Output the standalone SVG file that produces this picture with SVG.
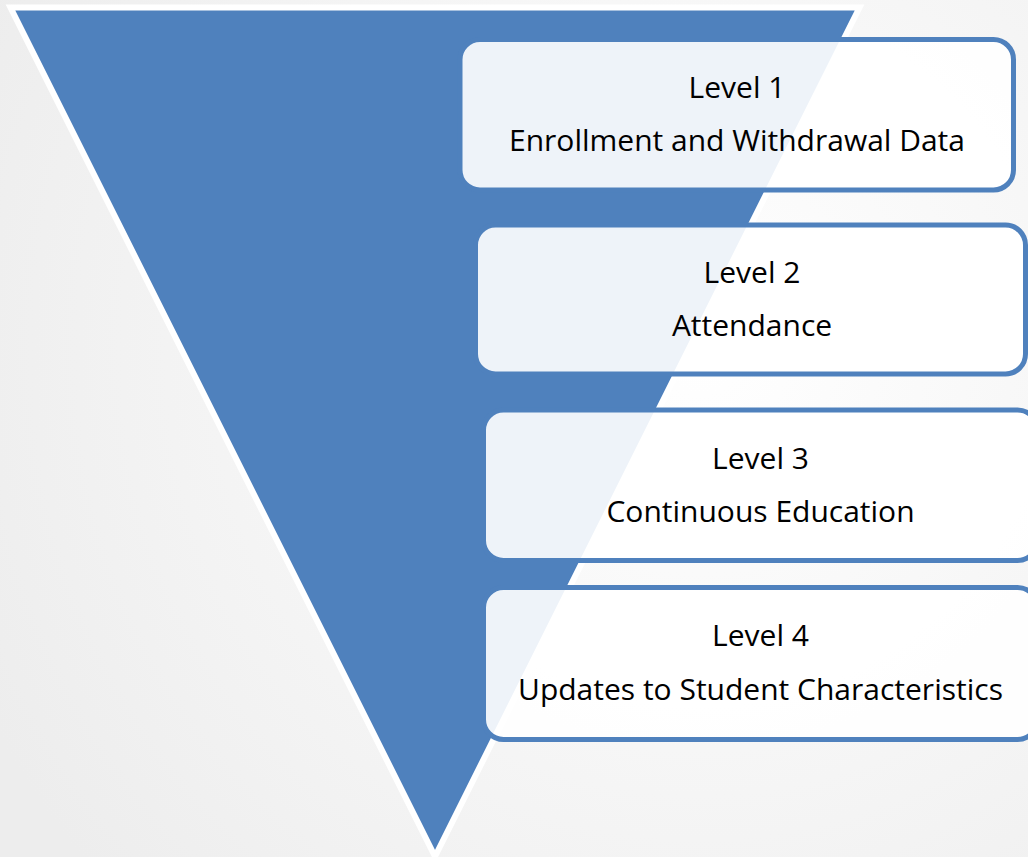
<svg xmlns="http://www.w3.org/2000/svg" width="1028" height="857" viewBox="0 0 1028 857">
<defs>
<radialGradient id="bg" cx="700" cy="350" r="800" gradientUnits="userSpaceOnUse">
<stop offset="0" stop-color="#FFFFFF"/>
<stop offset="1" stop-color="#EDEDED"/>
</radialGradient>
<style>
.box{fill:#FFFFFF;fill-opacity:0.9;stroke:#4F81BD;stroke-width:5}
.t{font-family:"Open Sans","Noto Sans","Liberation Sans",sans-serif;font-size:30px;fill:#000;text-anchor:middle}
</style>
</defs>
<rect x="0" y="0" width="1028" height="857" fill="url(#bg)"/>
<g id="funnel">
<polygon points="10.5,7.5 859.5,7.5 435,856.5" fill="#4F81BD" stroke="#FFFFFF" stroke-width="6" stroke-linejoin="miter"/>
</g>
<g id="level1">
<rect class="box" x="460" y="39.5" width="553.5" height="150.5" rx="20"/>
<text class="t" x="737" y="97.5">Level 1</text>
<text class="t" x="737" y="151">Enrollment and Withdrawal Data</text>
</g>
<g id="level2">
<rect class="box" x="475.5" y="225" width="550" height="149" rx="20"/>
<text class="t" x="752" y="283">Level 2</text>
<text class="t" x="752" y="336">Attendance</text>
</g>
<g id="level3">
<rect class="box" x="483.5" y="410" width="554" height="150.5" rx="20"/>
<text class="t" x="760.5" y="468.5">Level 3</text>
<text class="t" x="760.5" y="522">Continuous Education</text>
</g>
<g id="level4">
<rect class="box" x="483.5" y="587.5" width="554" height="152" rx="20"/>
<text class="t" x="760.5" y="646">Level 4</text>
<text class="t" x="760.5" y="699.5">Updates to Student Characteristics</text>
</g>
<g id="connectors"></g>
</svg>
